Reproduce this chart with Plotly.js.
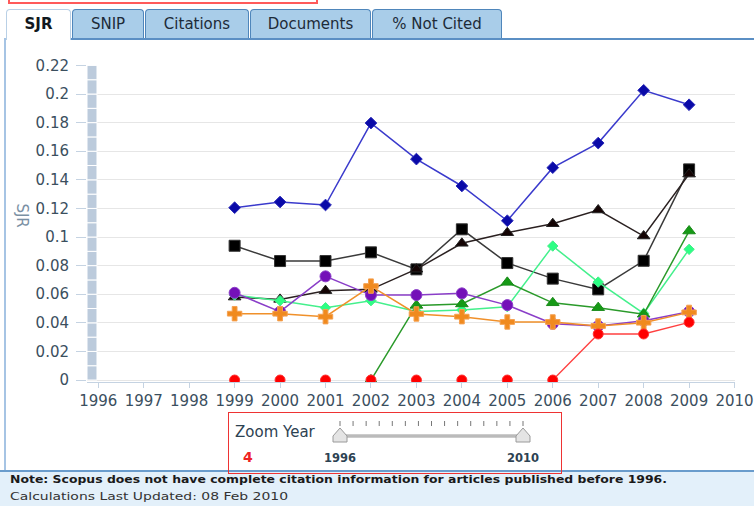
<!DOCTYPE html>
<html>
<head>
<meta charset="utf-8">
<script src="https://cdn.plot.ly/plotly-3.0.1.min.js"></script>
<style>
  html, body { margin:0; padding:0; width:754px; height:506px; overflow:hidden; background:#ffffff; font-family:"DejaVu Sans", Verdana, sans-serif; }
  #chart { position:absolute; left:0; top:0; width:754px; height:506px; z-index:1; }
  .deco { position:absolute; z-index:2; }
  .tab { position:absolute; top:9px; height:29px; background:#a9cde9; border:1px solid #4f86bb; border-bottom:none; border-radius:4px 4px 0 0; font-size:15px; color:#1d2b38; text-align:center; line-height:29px; box-sizing:border-box; z-index:3; }
  .tab.active { background:#ffffff; border-color:#b9d0e6; font-weight:bold; height:31px; color:#101820; }
</style>
</head>
<body>
<div id="chart"></div>

<div class="deco" style="left:8px; top:-20px; width:306px; height:20px; border:2px solid #ff5a5a;"></div>
<div class="deco" style="left:6px; top:38px; width:748px; height:2px; background:#5b8fc4;"></div>
<div class="deco" style="left:4px; top:38px; width:2px; height:432px; background:#a6c4e4;"></div>
<div id="tabs"></div>

<div class="deco" style="left:0; top:470px; width:754px; height:36px; background:#e3f0fa; border-top:2px solid #6a9ccc; box-sizing:border-box;"></div>
<div class="deco" id="note1" style="left:10px; top:473px; font-size:11px; font-weight:bold; color:#1a1a1a; white-space:nowrap; transform-origin:0 0;">Note: Scopus does not have complete citation information for articles published before 1996.</div>
<div class="deco" id="note2" style="left:10px; top:490px; font-size:11px; color:#333333; white-space:nowrap; transform-origin:0 0;">Calculations Last Updated: 08 Feb 2010</div>

<div class="deco" style="left:228px; top:412px; width:334px; height:62px; border:1px solid #ee3333; box-sizing:border-box; z-index:4;"></div>
<div class="deco" style="left:235px; top:423px; font-size:15px; color:#2d4252; white-space:nowrap;">Zoom Year</div>
<div class="deco" style="left:243px; top:449px; font-size:14px; font-weight:bold; color:#ee2222;">4</div>
<svg class="deco" id="slider" style="left:320px; top:412px;" width="230" height="60"></svg>

<script>
// ---- data ----
const years = [1999, 2000, 2001, 2002, 2003, 2004, 2005, 2006, 2007, 2008, 2009];
const seriesBlue       = [0.1205, 0.1245, 0.1224, 0.1797, 0.1545, 0.1357, 0.1114, 0.1485, 0.1657, 0.2026, 0.1925];
const seriesBlackSq    = [0.0939, 0.0832, 0.0832, 0.0893, 0.0774, 0.1054, 0.0818, 0.0709, 0.0634, 0.0834, 0.1473];
const seriesBlackTri   = [0.0580, 0.0564, 0.0625, 0.0634, 0.0775, 0.0956, 0.1030, 0.1093, 0.1189, 0.1007, 0.1440];
const seriesLightGreen = [0.0594, 0.0555, 0.0506, 0.0555, 0.0480, 0.0490, 0.0513, 0.0937, 0.0685, 0.0466, 0.0914];
const seriesDarkGreen  = [null, null, null, 0, 0.0522, 0.0532, 0.0683, 0.0540, 0.0506, 0.0460, 0.1042];
const seriesPurple     = [0.0610, 0.0478, 0.0725, 0.0594, 0.0594, 0.0606, 0.0524, 0.0394, 0.0378, 0.0415, 0.0478];
const seriesOrange     = [0.0464, 0.0464, 0.0443, 0.0657, 0.0462, 0.0443, 0.0406, 0.0406, 0.0378, 0.0401, 0.0473];
const seriesRed        = [0, 0, 0, 0, 0, 0, 0, 0, 0.0322, 0.0322, 0.0404];
const xTickYears = [1996, 1997, 1998, 1999, 2000, 2001, 2002, 2003, 2004, 2005, 2006, 2007, 2008, 2009, 2010];
const yTicks = [0, 0.02, 0.04, 0.06, 0.08, 0.1, 0.12, 0.14, 0.16, 0.18, 0.2, 0.22];
const tabLabels = ["SJR", "SNIP", "Citations", "Documents", "% Not Cited"];
const sliderStart = "1996", sliderEnd = "2010";

// ---- tabs ----
const tabGeom = [[6, 65], [72, 72], [145, 104], [250, 121], [372, 130]];
const tabsEl = document.getElementById('tabs');
tabLabels.forEach((t, i) => {
  const d = document.createElement('div');
  d.className = 'tab' + (i === 0 ? ' active' : '');
  d.style.left = tabGeom[i][0] + 'px';
  d.style.width = tabGeom[i][1] + 'px';
  d.textContent = t;
  tabsEl.appendChild(d);
});

// ---- note fitting ----
function fit(id, w) {
  const el = document.getElementById(id);
  const cw = el.getBoundingClientRect().width;
  el.style.transform = 'scaleX(' + (w / cw) + ')';
}
fit('note1', 657);
fit('note2', 278);

// ---- slider ----
(function () {
  const svg = document.getElementById('slider');
  const x0 = 20, x1 = 203, n = xTickYears.length;
  let html = '';
  for (let i = 0; i < n; i++) {
    const x = x0 + (x1 - x0) * i / (n - 1);
    html += `<line x1="${x}" y1="9" x2="${x}" y2="14" stroke="#777" stroke-width="1"/>`;
  }
  html += `<line x1="${x0}" y1="24" x2="${x1}" y2="24" stroke="#999" stroke-width="3"/>`;
  html += `<line x1="${x0}" y1="24" x2="${x1}" y2="24" stroke="#dcdcdc" stroke-width="1"/>`;
  [x0, x1].forEach(x => {
    html += `<path d="M${x-7},30 L${x-7},24 L${x},16 L${x+7},24 L${x+7},30 Z" fill="#e4e4e4" stroke="#9a9a9a" stroke-width="1"/>`;
  });
  html += `<text x="${x0}" y="50" text-anchor="middle" font-size="11.5" font-weight="bold" fill="#2d4252" font-family="DejaVu Sans">${sliderStart}</text>`;
  html += `<text x="${x1}" y="50" text-anchor="middle" font-size="11.5" font-weight="bold" fill="#2d4252" font-family="DejaVu Sans">${sliderEnd}</text>`;
  svg.innerHTML = html;
})();

// ---- chart ----
function lineOnly(arr) {
  return arr.map((v, i) => (v === 0 && (i + 1 >= arr.length || arr[i + 1] === 0 || arr[i + 1] === null)) ? null : v);
}

const traces = [
  { y: seriesBlue, line: { color: '#3a3acc', width: 1.5 }, marker: { symbol: 'diamond', size: 9, color: '#0a0aa8', line: { color: '#2a2ab8', width: 1 } } },
  { y: seriesBlackSq, line: { color: '#3a3a3a', width: 1.5 }, marker: { symbol: 'square', size: 11, color: '#000000', line: { color: '#333', width: 1 } } },
  { y: seriesBlackTri, line: { color: '#2a2020', width: 1.5 }, marker: { symbol: 'triangle-up', size: 11, color: '#140404', line: { color: '#222', width: 1 } } },
  { y: seriesLightGreen, line: { color: '#44f08c', width: 1.5 }, marker: { symbol: 'diamond', size: 8, color: '#2cff84', line: { color: '#44ee88', width: 1 } } },
  { y: seriesDarkGreen, line: { color: '#2a9a2a', width: 1.5 }, marker: { symbol: 'triangle-up', size: 11, color: '#169a16', line: { color: '#1a8a1a', width: 1 } } },
  { y: seriesPurple, line: { color: '#8a3ec8', width: 1.5 }, marker: { symbol: 'circle', size: 11, color: '#7410b8', line: { color: '#8a3ec8', width: 1 } } },
  { y: seriesOrange, line: { color: '#f0902a', width: 1.5 }, marker: { symbol: 'cross', size: 12, color: '#f08a1e', line: { color: '#f5a050', width: 1 } } },
].map(t => Object.assign({ x: years, type: 'scatter', mode: 'lines+markers', connectgaps: false, hoverinfo: 'none', cliponaxis: true }, t));

traces.push({ x: years, y: lineOnly(seriesRed), type: 'scatter', mode: 'lines', line: { color: '#ff4040', width: 1.3 }, connectgaps: false, hoverinfo: 'none' });
traces.push({ x: years, y: seriesRed, type: 'scatter', mode: 'markers', marker: { symbol: 'circle', size: 10, color: '#ff0000', line: { color: '#ff3030', width: 1 } }, hoverinfo: 'none' });

const xMin = 1995.752, xMax = 2010.01;
// gray axis bar segments (decoration)
const shapes = [];
for (let i = 0; i < 22; i++) {
  shapes.push({ type: 'rect', xref: 'x', yref: 'y', x0: xMin, x1: xMin + 10 / 45.48, y0: i * 0.01, y1: (i + 1) * 0.01,
    fillcolor: '#bccbdc', line: { color: '#ffffff', width: 1 }, layer: 'above' });
}

const layout = {
  width: 754, height: 506,
  margin: { l: 87, r: 19, t: 65, b: 124, pad: 0 },
  paper_bgcolor: 'rgba(0,0,0,0)', plot_bgcolor: 'rgba(0,0,0,0)',
  showlegend: false,
  font: { family: 'DejaVu Sans, Verdana, sans-serif', size: 15, color: '#3b4f5e' },
  xaxis: {
    range: [xMin, xMax], tickvals: xTickYears, ticktext: xTickYears.map(String),
    showgrid: false, zeroline: false, showline: true, linecolor: '#c5d3e2', linewidth: 1,
    ticks: 'outside', ticklen: 5, tickcolor: '#c5d3e2', tickwidth: 1,
    tickfont: { size: 15, color: '#3b4f5e' }, fixedrange: true
  },
  yaxis: {
    range: [-0.00138, 0.2203], tickvals: yTicks, ticktext: yTicks.map(v => String(+v.toFixed(2))),
    showgrid: true, gridcolor: '#e6e6e6', gridwidth: 1, zeroline: false, showline: false,
    ticks: 'outside', ticklen: 10, tickcolor: '#c5d3e2', tickwidth: 1, ticklabelstandoff: 4,
    tickfont: { size: 15, color: '#3b4f5e' }, fixedrange: true
  },
  shapes: shapes,
  annotations: [{ text: 'SJR', xref: 'paper', yref: 'paper', x: -0.1, y: 0.525, xanchor: 'center', yanchor: 'middle',
    showarrow: false, textangle: 90, font: { size: 15, color: '#7a90a4' } }]
};

Plotly.newPlot('chart', traces, layout, { staticPlot: true, displayModeBar: false });
</script>
</body>
</html>
